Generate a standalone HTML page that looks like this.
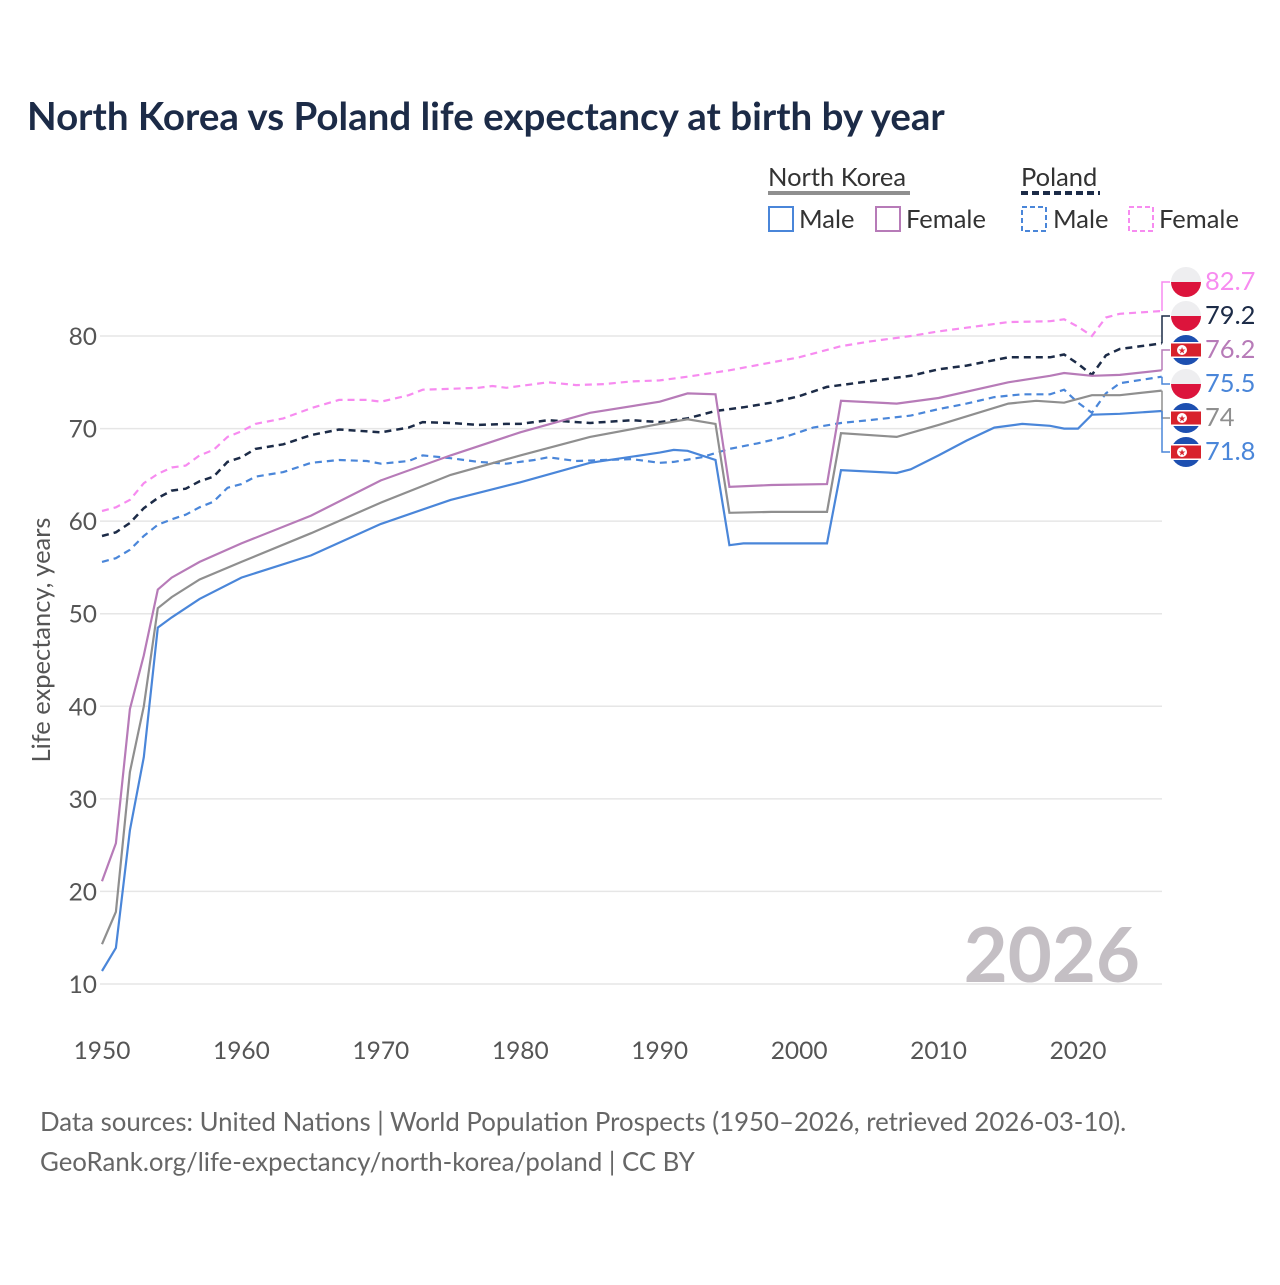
<!DOCTYPE html>
<html><head><meta charset="utf-8"><style>
body{margin:0;background:#fff;font-family:"Liberation Sans",sans-serif;}
svg text{font-family:"Lato","Liberation Sans",sans-serif;}
</style></head><body>
<svg id="c" width="1280" height="1280" xmlns="http://www.w3.org/2000/svg">
<rect width="1280" height="1280" fill="#fff"/>
<text x="27" y="130" font-size="38.5" font-weight="bold" fill="#1c2b47">North Korea vs Poland life expectancy at birth by year</text>
<g>
<text x="768" y="186" font-size="25.5" fill="#333">North Korea</text>
<line x1="768" y1="193" x2="910" y2="193" stroke="#8f8f8f" stroke-width="4"/>
<text x="1021" y="186" font-size="25.5" fill="#333">Poland</text>
<line x1="1021" y1="193" x2="1100" y2="193" stroke="#1c2b47" stroke-width="4" stroke-dasharray="7,4"/>
<rect x="769" y="207" width="24" height="24" fill="none" stroke="#4a86d9" stroke-width="2"/>
<text x="799" y="228" font-size="25.5" fill="#333">Male</text>
<rect x="876" y="207" width="24" height="24" fill="none" stroke="#b77bb8" stroke-width="2"/>
<text x="906" y="228" font-size="25.5" fill="#333">Female</text>
<rect x="1022" y="207" width="24" height="24" fill="none" stroke="#4a86d9" stroke-width="2" stroke-dasharray="5,3"/>
<text x="1053" y="228" font-size="25.5" fill="#333">Male</text>
<rect x="1129" y="207" width="24" height="24" fill="none" stroke="#f78bf0" stroke-width="2" stroke-dasharray="5,3"/>
<text x="1159" y="228" font-size="25.5" fill="#333">Female</text>
</g>
<g id="grid"></g>
<text x="1140" y="982" font-size="76" font-weight="bold" fill="#c4bfc4" text-anchor="end">2026</text>
<g id="series"></g>
<g id="labels"></g>
<text transform="translate(50,640) rotate(-90)" font-size="25.5" fill="#555" text-anchor="middle">Life expectancy, years</text>
<text x="40" y="1131" font-size="25.8" fill="#666">Data sources: United Nations | World Population Prospects (1950–2026, retrieved 2026-03-10).</text>
<text x="40" y="1171" font-size="25.8" fill="#666">GeoRank.org/life-expectancy/north-korea/poland | CC BY</text>
</svg>
<script>
const yTicks=[10,20,30,40,50,60,70,80];
const xTicks=[1950,1960,1970,1980,1990,2000,2010,2020];
const nkMale=[[1950,11.4],[1951,13.9],[1952,26.6],[1953,34.5],[1954,48.5],[1955,49.6],[1957,51.6],[1960,53.9],[1965,56.3],[1970,59.7],[1975,62.3],[1980,64.2],[1985,66.3],[1990,67.4],[1991,67.7],[1992,67.6],[1994,66.6],[1995,57.4],[1996,57.6],[2002,57.6],[2003,65.5],[2007,65.2],[2008,65.6],[2010,67.1],[2012,68.7],[2014,70.1],[2016,70.5],[2018,70.3],[2019,70.0],[2020,70.0],[2021,71.5],[2023,71.6],[2026,71.9]];
const nkFemale=[[1950,21.1],[1951,25.2],[1952,39.7],[1953,45.5],[1954,52.6],[1955,53.9],[1957,55.6],[1960,57.6],[1965,60.6],[1970,64.4],[1975,67.1],[1980,69.6],[1985,71.7],[1990,72.9],[1992,73.8],[1994,73.7],[1995,63.7],[1998,63.9],[2002,64.0],[2003,73.0],[2007,72.7],[2010,73.3],[2015,75.0],[2018,75.7],[2019,76.0],[2021,75.7],[2023,75.8],[2026,76.3]];
const nkTotal=[[1950,14.3],[1951,17.8],[1952,32.9],[1953,40.0],[1954,50.6],[1955,51.8],[1957,53.7],[1960,55.6],[1965,58.7],[1970,62.0],[1975,65.0],[1980,67.1],[1985,69.1],[1990,70.5],[1992,71.0],[1994,70.5],[1995,60.9],[1998,61.0],[2002,61.0],[2003,69.5],[2007,69.1],[2010,70.4],[2015,72.7],[2017,73.0],[2019,72.8],[2021,73.6],[2023,73.6],[2026,74.1]];
const plFemale=[[1950,61.1],[1951,61.5],[1952,62.3],[1953,64.1],[1954,65.1],[1955,65.8],[1956,66.0],[1957,67.1],[1958,67.7],[1959,69.1],[1960,69.7],[1961,70.5],[1963,71.1],[1965,72.2],[1967,73.1],[1969,73.1],[1970,72.9],[1972,73.6],[1973,74.2],[1975,74.3],[1977,74.4],[1978,74.6],[1979,74.4],[1982,75.0],[1984,74.7],[1986,74.8],[1988,75.1],[1990,75.2],[1992,75.6],[1995,76.3],[2000,77.7],[2003,78.9],[2005,79.4],[2008,80.0],[2010,80.5],[2012,80.9],[2015,81.5],[2018,81.6],[2019,81.8],[2020,81.0],[2021,80.0],[2022,82.0],[2023,82.4],[2026,82.7]];
const plTotal=[[1950,58.4],[1951,58.8],[1952,59.8],[1953,61.4],[1954,62.5],[1955,63.3],[1956,63.5],[1957,64.3],[1958,64.8],[1959,66.4],[1960,66.9],[1961,67.8],[1963,68.3],[1965,69.3],[1967,69.9],[1970,69.6],[1972,70.1],[1973,70.7],[1975,70.6],[1977,70.4],[1979,70.5],[1980,70.5],[1982,70.9],[1985,70.6],[1988,70.9],[1990,70.7],[1992,71.1],[1994,71.9],[1996,72.3],[1998,72.8],[2000,73.5],[2002,74.5],[2004,74.9],[2006,75.3],[2008,75.7],[2010,76.4],[2012,76.8],[2014,77.4],[2015,77.7],[2018,77.7],[2019,78.0],[2020,77.0],[2021,75.8],[2022,77.9],[2023,78.6],[2026,79.2]];
const plMale=[[1950,55.6],[1951,56.0],[1952,56.9],[1953,58.4],[1954,59.6],[1955,60.2],[1956,60.7],[1957,61.5],[1958,62.1],[1959,63.6],[1960,64.0],[1961,64.8],[1963,65.3],[1965,66.3],[1967,66.6],[1969,66.5],[1970,66.2],[1972,66.5],[1973,67.1],[1975,66.8],[1977,66.4],[1979,66.2],[1981,66.6],[1982,66.9],[1984,66.5],[1986,66.6],[1988,66.7],[1990,66.3],[1991,66.4],[1993,66.9],[1995,67.8],[1997,68.4],[1999,69.1],[2001,70.1],[2003,70.6],[2005,70.9],[2008,71.4],[2010,72.1],[2012,72.7],[2014,73.4],[2016,73.7],[2018,73.7],[2019,74.2],[2020,72.8],[2021,71.7],[2022,73.8],[2023,74.9],[2026,75.6]];
const endLabels=["82.7","79.2","76.2","75.5","74","71.8"];
const NS="http://www.w3.org/2000/svg";
const X=y=>102+(y-1950)*(976/70);
const Y=v=>984-(v-10)*(648/70);
function mk(t,a,p){const e=document.createElementNS(NS,t);for(const k in a)e.setAttribute(k,a[k]);p.appendChild(e);return e;}
const grid=document.getElementById('grid');
yTicks.forEach(v=>{
 const l=mk('line',{x1:100,x2:1162,y1:Y(v),y2:Y(v),stroke:'#e6e6e6','stroke-width':1.5},grid);
 
 
 const t=mk('text',{x:97,y:Y(v)+9,'font-size':24.5,fill:'#555','text-anchor':'end'},grid);t.textContent=v;
 
 
});
xTicks.forEach(v=>{
 const t=mk('text',{x:X(v),y:1059,'font-size':24.5,fill:'#555','text-anchor':'middle'},grid);t.textContent=v;
 
 
});
const sg=document.getElementById('series');
const defs=[
 [plFemale,'#f78bf0','7,5','poland-female-line',2.2],
 [plTotal,'#1c2b47','7,5','poland-total-line',2.5],
 [plMale,'#4a86d9','7,5','poland-male-line',2.2],
 [nkFemale,'#b77bb8','','north-korea-female-line',2.2],
 [nkTotal,'#8f8f8f','','north-korea-total-line',2.2],
 [nkMale,'#4a86d9','','north-korea-male-line',2.2]];
defs.forEach(([d,c,da,n,w])=>{
 const p=mk('path',{d:'M'+d.map(q=>X(q[0]).toFixed(1)+','+Y(q[1]).toFixed(1)).join('L'),fill:'none',stroke:c,'stroke-width':w,'stroke-dasharray':da},sg);
 
 
});
const lg=document.getElementById('labels');
const colors=['#f78bf0','#1c2b47','#b77bb8','#4a86d9','#8f8f8f','#4a86d9'];
const srcs=[plFemale,plTotal,nkFemale,plMale,nkTotal,nkMale];
const isPL=[1,1,0,1,0,0];
srcs.forEach((s,i)=>{
 const ly=282+i*34, sy=Y(s[s.length-1][1]);
 mk('path',{d:`M1162,${sy}H1162V${ly}H1170`,fill:'none',stroke:colors[i],'stroke-width':1.5},lg);
 const g=mk('g',{},lg);
 
 
 const cx=1186,r=15;
 if(isPL[i]){
  mk('circle',{cx,cy:ly,r,fill:'#eeeef0'},g);
  mk('path',{d:`M${cx-r},${ly}A${r},${r} 0 0 0 ${cx+r},${ly}Z`,fill:'#dc143c'},g);
 } else {
  mk('circle',{cx,cy:ly,r,fill:'#1d4fb0'},g);
  mk('rect',{x:cx-r,y:ly-8,width:2*r,height:16,fill:'#fff'},g);
  mk('rect',{x:cx-r,y:ly-6.5,width:2*r,height:13,fill:'#d8222c'},g);
  mk('circle',{cx:cx-4,cy:ly,r:5,fill:'#fff'},g);
  mk('text',{x:cx-4,y:ly+3.5,'font-size':9,fill:'#d8222c','text-anchor':'middle'},g).textContent='★';
 }
 const t=mk('text',{x:1205,y:ly+8,'font-size':25.5,fill:colors[i]},g);t.textContent=endLabels[i];
});
</script>
</body></html>
